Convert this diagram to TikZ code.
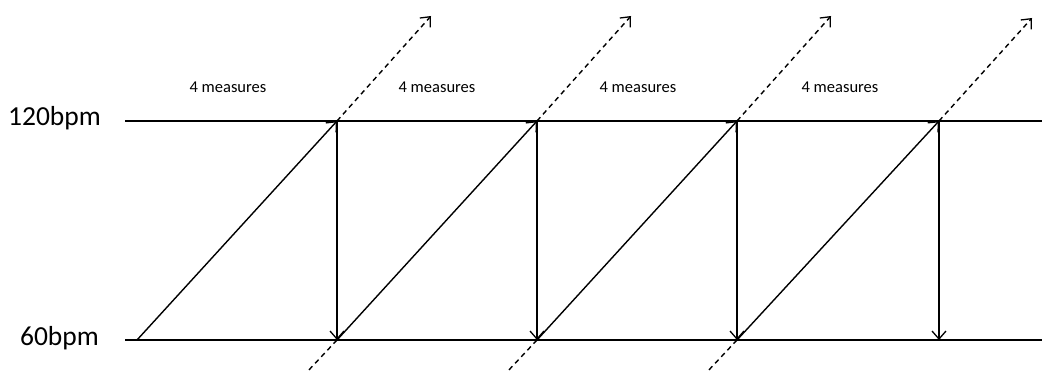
\documentclass[tikz,border=0pt]{standalone}
\usepackage{fontspec}
\setmainfont{Carlito}
\usetikzlibrary{arrows.meta}
\begin{document}
\begin{tikzpicture}[x=1pt,y=1pt,
  line/.style={line width=1.4pt,black},
  tip/.style={-{Straight Barb[length=8pt,width=14pt,line width=1.3pt]}},
  ext/.style={line width=1.4pt,dash pattern=on 5pt off 4pt},
  bpm/.style={font=\fontsize{27.5}{32}\selectfont,inner sep=0pt,anchor=base east},
  meas/.style={font=\fontsize{16.5}{19}\selectfont,inner sep=0pt,anchor=base}]
\useasboundingbox (0,0) rectangle (1042,372);
% coordinates
\coordinate (LT) at (125,251);
\coordinate (RT) at (1042,251);
\coordinate (LB) at (125,32);
\coordinate (RB) at (1042,32);
\coordinate (B0) at (137,32);
\coordinate (T1) at (337,251);
\coordinate (T2) at (537,251);
\coordinate (T3) at (737,251);
\coordinate (T4) at (939,251);
\coordinate (B1) at (337,32);
\coordinate (B2) at (537,32);
\coordinate (B3) at (737,32);
\coordinate (B4) at (939,32);
\coordinate (U1) at (431,356);
\coordinate (U2) at (631,356);
\coordinate (U3) at (831,356);
\coordinate (U4) at (1032,354);
\coordinate (D1) at (307,0);
\coordinate (D2) at (507,0);
\coordinate (D3) at (707,0);
% labels
\node[bpm] (l120) at (101,246) {120bpm};
\node[bpm] (l60) at (99,26) {60bpm};
\node[meas] (m1) at (228,279) {4 measures};
\node[meas] (m2) at (437,279) {4 measures};
\node[meas] (m3) at (638,279) {4 measures};
\node[meas] (m4) at (840,279) {4 measures};
% horizontal lines
\draw[line] (LT) -- (RT);
\draw[line] (LB) -- (RB);
% diagonals
\draw[line,tip] (B0) -- (T1);
\draw[line,tip] (B1) -- (T2);
\draw[line,tip] (B2) -- (T3);
\draw[line,tip] (B3) -- (T4);
% verticals
\draw[line,tip] (T1) -- (B1);
\draw[line,tip] (T2) -- (B2);
\draw[line,tip] (T3) -- (B3);
\draw[line,tip] (T4) -- (B4);
% dashed extensions
\draw[ext,tip] (T1) -- (U1);
\draw[ext,tip] (T2) -- (U2);
\draw[ext,tip] (T3) -- (U3);
\draw[ext,tip] (T4) -- (U4);
\draw[ext] (B1) -- (D1);
\draw[ext] (B2) -- (D2);
\draw[ext] (B3) -- (D3);
\end{tikzpicture}
\end{document}
